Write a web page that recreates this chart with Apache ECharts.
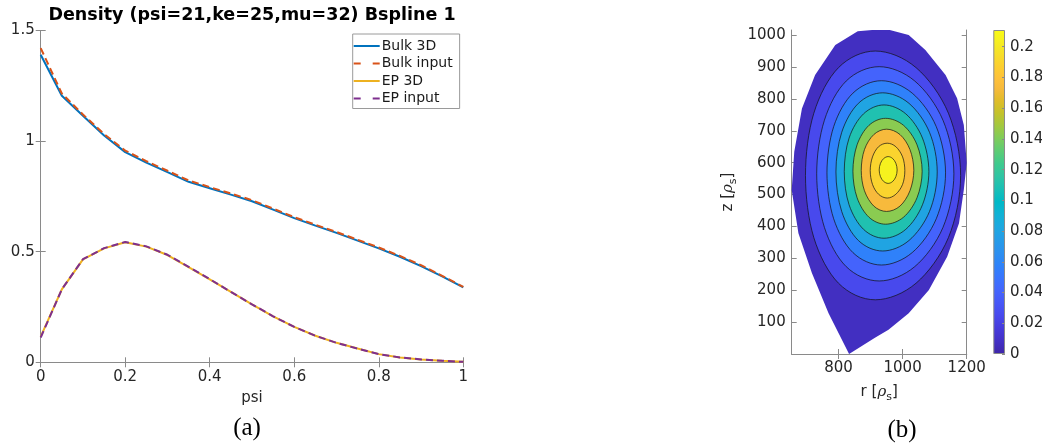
<!DOCTYPE html>
<html><head><meta charset="utf-8">
<script src="https://cdn.jsdelivr.net/npm/echarts@6/dist/echarts.min.js"></script>
<style>html,body{margin:0;padding:0;background:#fff}#c{width:1042px;height:448px}</style>
</head><body><div id="c"></div>
<script>
// ---------- Panel (a) data ----------
const psi = [0,0.05,0.1,0.15,0.2,0.25,0.3,0.35,0.4,0.45,0.5,0.55,0.6,0.65,0.7,0.75,0.8,0.85,0.9,0.95,1];
const bulk3D    = [1.39,1.205,1.115,1.025,0.95,0.903,0.86,0.816,0.787,0.758,0.728,0.69,0.652,0.618,0.585,0.55,0.515,0.477,0.435,0.388,0.339];
const bulkInput = [1.42,1.215,1.12,1.032,0.957,0.909,0.866,0.822,0.792,0.763,0.733,0.695,0.656,0.622,0.589,0.554,0.519,0.481,0.439,0.391,0.341];
const ep3D      = [0.116,0.33,0.465,0.515,0.543,0.523,0.485,0.43,0.375,0.318,0.262,0.208,0.16,0.12,0.088,0.062,0.037,0.022,0.013,0.007,0.002];
const epInput   = [0.112,0.33,0.466,0.516,0.544,0.524,0.486,0.431,0.376,0.318,0.262,0.208,0.16,0.12,0.088,0.062,0.037,0.022,0.013,0.007,0.002];
const seriesNames = ['Bulk 3D','Bulk input','EP 3D','EP input'];
const titleText = 'Density (psi=21,ke=25,mu=32) Bspline 1';

// ---------- Panel (b) data (r, z in rho_s) ----------
const boundary = [[905,1016],[960,1016],[1019,1000],[1071,953],[1134,875],[1170,802],[1191,718],[1200,600],[1191,515],[1176,410],[1139,305],[1082,201],[1019,128],[956,76],[915,52],[833,0],[769,128],[717,254],[675,379],[654,514],[662,634],[686,770],[727,875],[790,969],[860,1012]];
const contour1 = [[1181,560],[1143,755],[1042,898],[915,950],[800,898],[723,755],[697,560],[723,365],[800,222],[915,170],[1042,222],[1143,365]];
const contour2 = [[1160,565],[1126,733],[1038,856],[927,901],[824,856],[756,733],[732,565],[756,397],[824,274],[927,229],[1038,274],[1126,397]];
const contour3 = [[1134,568],[1105,713],[1030,818],[934,857],[845,818],[785,713],[764,568],[785,424],[845,318],[934,279],[1030,318],[1105,424]];
const contour4 = [[1108,571],[1084,695],[1020,786],[938,819],[862,786],[810,695],[792,571],[810,447],[862,356],[938,323],[1020,356],[1084,447]];
const contour5 = [[1082,572],[1062,677],[1010,753],[942,781],[878,753],[833,677],[818,572],[833,468],[878,391],[942,363],[1010,391],[1062,468]];
const contour6 = [[1061,573],[1045,656],[1003,717],[947,739],[895,717],[858,656],[845,573],[858,490],[895,429],[947,407],[1003,429],[1045,490]];
const contour7 = [[1035,576],[1023,641],[992,688],[950,705],[910,688],[881,641],[871,576],[881,512],[910,464],[950,447],[992,464],[1023,512]];
const contour8 = [[1007,575],[1000,618],[979,650],[952,661],[925,650],[906,618],[899,575],[906,532],[925,501],[952,489],[979,501],[1000,532]];
const contour9 = [[983,577],[979,598],[969,613],[955,619],[941,613],[931,598],[927,577],[931,556],[941,541],[955,535],[969,541],[979,556]];
// density read (by colour) inside each band: outside contour1, between 1-2, ..., inside contour9
const bandDensity = [0.007,0.025,0.04,0.057,0.08,0.11,0.143,0.173,0.19,0.205];
const densityMax = 0.2109;
const rTicks = [800,1000,1200];
const zTicks = [100,200,300,400,500,600,700,800,900,1000];
const cbarTicks = [0,0.02,0.04,0.06,0.08,0.1,0.12,0.14,0.16,0.18,0.2];

// ---------- styling ----------
const FONT = 'DejaVu Sans';
const AX = '#8a8a8a';
const TXT = '#262626';
const parulaStops = [[0,'#3e26a8'],[0.039,'#4330c5'],[0.078,'#463adb'],[0.118,'#4849ed'],[0.157,'#4757f7'],[0.196,'#4465fd'],[0.235,'#3974fe'],[0.275,'#2e83f9'],[0.314,'#2c90ef'],[0.353,'#259ce7'],[0.392,'#1da8e0'],[0.431,'#10b2d5'],[0.47,'#00b9c6'],[0.51,'#1abfb5'],[0.549,'#2fc5a3'],[0.588,'#3fca8d'],[0.627,'#5dcc74'],[0.667,'#80cc59'],[0.706,'#a4c83e'],[0.745,'#c5c22a'],[0.784,'#e1bc2a'],[0.82,'#f7ba3c'],[0.85,'#fec13a'],[0.878,'#fdcb32'],[0.91,'#f9d82c'],[0.94,'#f5e526'],[0.97,'#f6f11f'],[1,'#f9fb14']];
function h2r(h){return [1,3,5].map(i=>parseInt(h.substr(i,2),16));}
function parula(t){
  t=Math.max(0,Math.min(1,t));
  for(let i=1;i<parulaStops.length;i++){
    const [t1,c1]=parulaStops[i]; const [t0,c0]=parulaStops[i-1];
    if(t<=t1){const f=(t-t0)/(t1-t0);const a=h2r(c0),b=h2r(c1);
      return 'rgb('+a.map((v,k)=>Math.round(v+(b[k]-v)*f)).join(',')+')';}
  }
  return parulaStops[parulaStops.length-1][1];
}
const shapes = [boundary,contour1,contour2,contour3,contour4,contour5,contour6,contour7,contour8,contour9];

// closed smooth curve (Catmull-Rom drawn as cubic Bezier) through pixel points
function closedCurvePath(p){
  const n=p.length; let d='M'+p[0][0]+','+p[0][1];
  for(let i=0;i<n;i++){
    const p0=p[(i-1+n)%n],p1=p[i],p2=p[(i+1)%n],p3=p[(i+2)%n];
    const c1=[p1[0]+(p2[0]-p0[0])/6,p1[1]+(p2[1]-p0[1])/6];
    const c2=[p2[0]-(p3[0]-p1[0])/6,p2[1]-(p3[1]-p1[1])/6];
    d+='C'+c1[0]+','+c1[1]+' '+c2[0]+','+c2[1]+' '+p2[0]+','+p2[1];
  }
  return d+'Z';
}

function pairs(xs,ys){return xs.map((x,i)=>[x,ys[i]]);}
const lineColors = ['#0072bd','#d95319','#edb120','#7e2f8e'];
const lineData = [bulk3D,bulkInput,ep3D,epInput];
const dashed = [false,true,false,true];
const solidIcon = 'path://M0,0H26V2H0Z';
const dashIcon = 'path://M0,0H7V2H0Z M19,0H26V2H19Z';

const tickStyle = {show:true,inside:true,length:5,lineStyle:{color:AX,width:1}};
const lineStyleAx = {show:true,lineStyle:{color:AX,width:1}};
const lbl = {color:TXT,fontFamily:FONT,fontSize:15,formatter:v=>String(v)};
const nameRich = {
  n:{fontFamily:FONT,fontSize:15,color:TXT,verticalAlign:'top',lineHeight:18},
  g:{fontFamily:'DejaVu Serif',fontStyle:'italic',fontSize:15,color:TXT,verticalAlign:'top',lineHeight:18},
  s:{fontFamily:FONT,fontSize:11,color:TXT,verticalAlign:'top',lineHeight:18,padding:[7,0,0,0]}
};

const chart = echarts.init(document.getElementById('c'));
const option = {
  animation:false,
  backgroundColor:'#fff',
  title:[
    {text:titleText,left:252,top:6,textAlign:'center',padding:0,
     textStyle:{fontFamily:FONT,fontSize:17.5,fontWeight:'bold',color:'#000'}},
    {text:'(a)',left:247,top:416,textAlign:'center',padding:0,
     textStyle:{fontFamily:'Liberation Serif',fontSize:25,fontWeight:'normal',color:'#000'}},
    {text:'(b)',left:902,top:418,textAlign:'center',padding:0,
     textStyle:{fontFamily:'Liberation Serif',fontSize:25,fontWeight:'normal',color:'#000'}}
  ],
  legend:{
    show:true,orient:'vertical',left:352.7,top:34,
    data:seriesNames.map((n,i)=>({name:n,icon:dashed[i]?dashIcon:solidIcon})),
    padding:[4,7,2,1],itemGap:1.5,itemWidth:26,itemHeight:2,
    backgroundColor:'#fff',borderColor:'#9a9a9a',borderWidth:1,
    textStyle:{fontFamily:FONT,fontSize:14,color:'#1a1a1a',lineHeight:16,padding:[0,0,0,-3]}
  },
  grid:[
    {left:40.7,top:30.5,width:422.6,height:331.8,outerBoundsMode:'none',containLabel:false},
    {left:791.7,top:30,width:175,height:324,outerBoundsMode:'none',containLabel:false},
    {left:993.3,top:30,width:11.7,height:324,outerBoundsMode:'none',containLabel:false}
  ],
  xAxis:[
    {gridIndex:0,type:'value',min:0,max:1,interval:0.2,position:'bottom',
     axisLine:lineStyleAx,axisTick:tickStyle,splitLine:{show:false},
     axisLabel:Object.assign({margin:7},lbl),
     name:'psi',nameLocation:'middle',nameGap:28,nameTextStyle:{color:TXT,fontFamily:FONT,fontSize:15}},
    {gridIndex:0,type:'value',min:0,max:1,interval:0.2,position:'top',
     axisLine:lineStyleAx,axisTick:tickStyle,splitLine:{show:false},axisLabel:{show:false}},
    {gridIndex:1,type:'value',min:654,max:1200,position:'bottom',
     axisLine:lineStyleAx,axisTick:Object.assign({customValues:rTicks},tickStyle),splitLine:{show:false},
     axisLabel:Object.assign({margin:7,customValues:rTicks},lbl),
     name:'{n|r [}{g|ρ}{s|s}{n|]}',nameLocation:'middle',nameGap:31,
     nameTextStyle:{rich:nameRich}},
    {gridIndex:1,type:'value',min:654,max:1200,position:'top',
     axisLine:lineStyleAx,axisTick:Object.assign({customValues:rTicks},tickStyle),splitLine:{show:false},axisLabel:{show:false}},
    {gridIndex:2,type:'category',data:[''],show:false}
  ],
  yAxis:[
    {gridIndex:0,type:'value',min:0,max:1.5,interval:0.5,position:'left',
     axisLine:lineStyleAx,axisTick:tickStyle,splitLine:{show:false},
     axisLabel:Object.assign({margin:6},lbl)},
    {gridIndex:0,type:'value',min:0,max:1.5,interval:0.5,position:'right',
     axisLine:lineStyleAx,axisTick:tickStyle,splitLine:{show:false},axisLabel:{show:false}},
    {gridIndex:1,type:'value',min:0,max:1016,position:'left',
     axisLine:lineStyleAx,axisTick:Object.assign({customValues:zTicks},tickStyle),splitLine:{show:false},
     axisLabel:Object.assign({margin:6,customValues:zTicks},lbl),
     name:'{n|z [}{g|ρ}{s|s}{n|]}',nameLocation:'middle',nameGap:53,nameRotate:90,
     nameTextStyle:{rich:nameRich}},
    {gridIndex:1,type:'value',min:0,max:1016,position:'right',
     axisLine:lineStyleAx,axisTick:Object.assign({customValues:zTicks},tickStyle),splitLine:{show:false},axisLabel:{show:false}},
    {gridIndex:2,type:'value',min:0,max:densityMax,position:'right',z:5,
     axisLine:{show:false},axisTick:{show:true,inside:true,length:3,customValues:cbarTicks,lineStyle:{color:AX,width:1}},
     splitLine:{show:false},
     axisLabel:Object.assign({margin:5,customValues:cbarTicks},lbl)}
  ],
  series:[]
};

seriesNames.forEach((nm,i)=>{
  option.series.push({
    name:nm,type:'line',xAxisIndex:0,yAxisIndex:0,
    data:pairs(psi,lineData[i]),symbol:'none',showSymbol:false,
    lineStyle:{color:lineColors[i],width:2,type:dashed[i]?[7,4]:'solid'},
    itemStyle:{color:lineColors[i]},z:2+i
  });
});

option.series.push({
  type:'custom',xAxisIndex:2,yAxisIndex:2,
  data:shapes.map((s,i)=>[i,bandDensity[i]]),
  renderItem:function(params,api){
    const k=api.value(0);
    const pts=shapes[k].map(p=>api.coord(p));
    const fill=parula(api.value(1)/densityMax);
    if(k===0){
      return {type:'polygon',z2:k,shape:{points:pts},style:{fill:fill,stroke:null}};
    }
    return {type:'path',z2:k,
      shape:{pathData:closedCurvePath(pts)},
      style:{fill:fill,stroke:'#111',lineWidth:0.7}};
  },
  silent:true
});

option.series.push({
  type:'bar',xAxisIndex:4,yAxisIndex:4,data:[densityMax],barWidth:'100%',barCategoryGap:0,silent:true,
  itemStyle:{borderColor:AX,borderWidth:1,
    color:new echarts.graphic.LinearGradient(0,1,0,0,parulaStops.map(s=>({offset:s[0],color:s[1]})))}
});

chart.setOption(option);
</script></body></html>
